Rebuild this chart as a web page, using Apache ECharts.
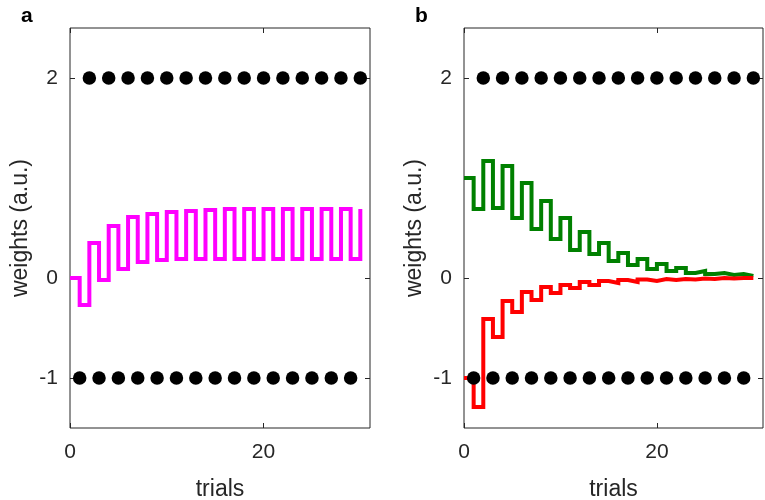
<!DOCTYPE html>
<html>
<head>
<meta charset="utf-8">
<script src="https://cdn.jsdelivr.net/npm/echarts@6/dist/echarts.min.js"></script>
<style>html,body{margin:0;padding:0;background:#fff;}#c{width:765px;height:500px;}</style>
</head>
<body>
<div id="c"></div>
<script>
const trials = [0,1,2,3,4,5,6,7,8,9,10,11,12,13,14,15,16,17,18,19,20,21,22,23,24,25,26,27,28,29,30];
const weightA = [0,-0.27,0.35,-0.02,0.52,0.09,0.61,0.16,0.64,0.18,0.66,0.19,0.67,0.19,0.68,0.19,0.69,0.19,0.69,0.19,0.69,0.19,0.69,0.19,0.69,0.19,0.69,0.19,0.69,0.19,0.69];
const weightGreen = [1.0,0.69,1.17,0.70,1.12,0.60,0.95,0.49,0.77,0.39,0.60,0.28,0.46,0.24,0.35,0.17,0.25,0.13,0.19,0.09,0.14,0.07,0.10,0.05,0.07,0.04,0.05,0.03,0.04,0.02,0.02];
const weightRed = [-1.0,-1.29,-0.41,-0.59,-0.23,-0.34,-0.14,-0.22,-0.09,-0.15,-0.07,-0.10,-0.04,-0.07,-0.03,-0.05,-0.02,-0.04,-0.015,-0.03,-0.01,-0.02,-0.01,-0.015,-0.005,-0.01,0,-0.005,0,0,0];
const dotsHighX = [2,4,6,8,10,12,14,16,18,20,22,24,26,28,30];
const dotsHighY = 2;
const dotsLowX = [1,3,5,7,9,11,13,15,17,19,21,23,25,27,29];
const dotsLowY = -1;
const xTickLabels = [0, 20];
const yTickLabels = [-1, 0, 2];
const panelLabels = ['a', 'b'];
const xName = 'trials';
const yName = 'weights (a.u.)';

const txt = '#262626';
const font = 'Liberation Sans, Arial, Helvetica, sans-serif';
const pairs = (xs, ys) => xs.map((x, i) => [x, Array.isArray(ys) ? ys[i] : ys]);

const grids = [
  {left: 70, top: 28, width: 300, height: 400},
  {left: 464, top: 28, width: 299, height: 400}
];
const xAxes = [], yAxes = [], series = [];
grids.forEach((g, gi) => {
  g.show = true; g.borderColor = '#262626'; g.borderWidth = 1; g.backgroundColor = 'transparent';
  g.containLabel = false; g.outerBoundsMode = 'none';
  xAxes.push({
    type: 'value', gridIndex: gi, min: 0, max: 31, position: 'bottom',
    name: xName, nameLocation: 'middle', nameGap: 50,
    nameTextStyle: {fontSize: 23, color: txt, fontFamily: font},
    axisLine: {show: false, onZero: false}, splitLine: {show: false},
    axisTick: {inside: true, length: 5, customValues: xTickLabels, lineStyle: {color: txt}},
    axisLabel: {customValues: xTickLabels, fontSize: 21, color: txt, fontFamily: font, margin: 14}
  });
  xAxes.push({
    type: 'value', gridIndex: gi, min: 0, max: 31, position: 'top',
    axisLine: {show: false, onZero: false}, splitLine: {show: false}, axisLabel: {show: false},
    axisTick: {inside: true, length: 5, customValues: xTickLabels, lineStyle: {color: txt}}
  });
  yAxes.push({
    type: 'value', gridIndex: gi, min: -1.5, max: 2.5, position: 'left',
    name: yName, nameLocation: 'middle', nameGap: 38,
    nameTextStyle: {fontSize: 23, color: txt, fontFamily: font},
    axisLine: {show: false, onZero: false}, splitLine: {show: false},
    axisTick: {inside: true, length: 5, customValues: yTickLabels, lineStyle: {color: txt}},
    axisLabel: {customValues: yTickLabels, fontSize: 21, color: txt, fontFamily: font, margin: 12}
  });
  yAxes.push({
    type: 'value', gridIndex: gi, min: -1.5, max: 2.5, position: 'right',
    axisLine: {show: false, onZero: false}, splitLine: {show: false}, axisLabel: {show: false},
    axisTick: {inside: true, length: 5, customValues: yTickLabels, lineStyle: {color: txt}}
  });
});

function lineSeries(gi, ys, color) {
  return {
    type: 'line', xAxisIndex: gi * 2, yAxisIndex: gi * 2, step: 'end',
    data: pairs(trials, ys), showSymbol: false, symbol: 'none',
    lineStyle: {color: color, width: 4, join: 'miter'}, animation: false, z: 2
  };
}
function dotSeries(gi, xs, y) {
  return {
    type: 'scatter', xAxisIndex: gi * 2, yAxisIndex: gi * 2,
    data: pairs(xs, y), symbol: 'circle', symbolSize: 13.5,
    itemStyle: {color: '#000', opacity: 1}, animation: false, z: 3
  };
}
series.push(lineSeries(0, weightA, '#ff00ff'));
series.push(dotSeries(0, dotsHighX, dotsHighY));
series.push(dotSeries(0, dotsLowX, dotsLowY));
series.push(lineSeries(1, weightGreen, '#008000'));
series.push(lineSeries(1, weightRed, '#ff0000'));
series.push(dotSeries(1, dotsHighX, dotsHighY));
series.push(dotSeries(1, dotsLowX, dotsLowY));

const chart = echarts.init(document.getElementById('c'), null, {renderer: 'canvas'});
chart.setOption({
  backgroundColor: '#fff',
  animation: false,
  title: [
    {text: panelLabels[0], left: 16, top: 1, textStyle: {fontSize: 21, fontWeight: 'bold', color: '#000', fontFamily: font}},
    {text: panelLabels[1], left: 410, top: 1, textStyle: {fontSize: 21, fontWeight: 'bold', color: '#000', fontFamily: font}}
  ],
  grid: grids,
  xAxis: xAxes,
  yAxis: yAxes,
  series: series
});
</script>
</body>
</html>
